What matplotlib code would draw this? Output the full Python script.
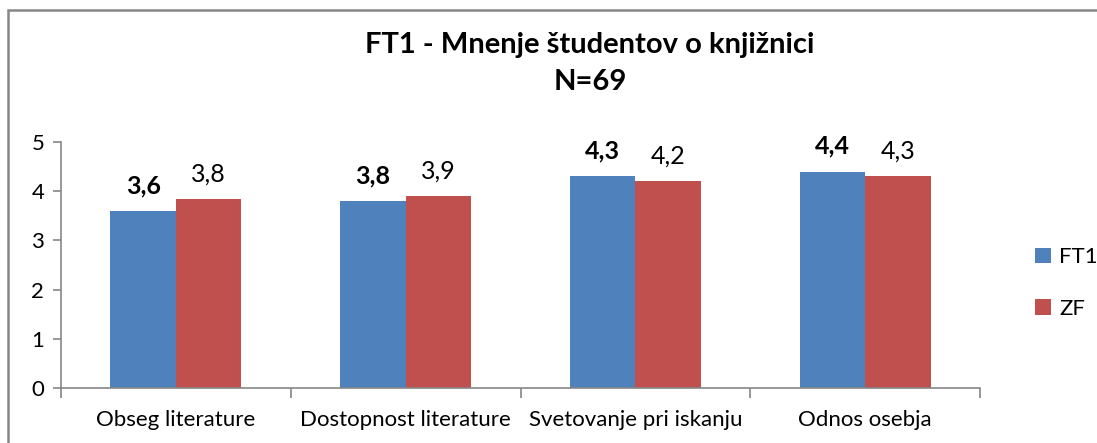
import matplotlib.pyplot as plt
import numpy as np
from matplotlib.patches import Rectangle

plt.rcParams['font.family'] = ['Lato', 'DejaVu Sans']

categories = ['Obseg literature', 'Dostopnost literature', 'Svetovanje pri iskanju', 'Odnos osebja']
ft1 = [3.6, 3.8, 4.3, 4.4]
zf = [3.84, 3.9, 4.2, 4.3]
series_names = ['FT1', 'ZF']
colors = ['#4f81bd', '#c0504d']
grey = '#868686'

fig = plt.figure(figsize=(10.97, 4.43), dpi=100)
ax = fig.add_axes([61 / 1097, 1 - 388 / 443, (980 - 61) / 1097, (388 - 142) / 443])

# outer chart border (runs off the right and bottom edge)
fig.patches.append(Rectangle((8 / 1097, -0.1), 1.2, 1 - 10 / 443 + 0.1,
                             transform=fig.transFigure, fill=False,
                             edgecolor=grey, linewidth=1.8))

x = np.arange(len(categories))
w = 0.285
b1 = ax.bar(x - w / 2, ft1, w, color=colors[0], label=series_names[0])
b2 = ax.bar(x + w / 2, zf, w, color=colors[1], label=series_names[1])

def fmt(v):
    return f'{v:.1f}'.replace('.', ',')

for r, v in zip(b1, ft1):
    ax.annotate(fmt(v), (r.get_x() + r.get_width() / 2, v), xytext=(0, 10),
                textcoords='offset points', ha='center', va='bottom',
                fontsize=18, fontweight='bold')
for r, v in zip(b2, zf):
    ax.annotate(fmt(v), (r.get_x() + r.get_width() / 2, v), xytext=(0, 10),
                textcoords='offset points', ha='center', va='bottom',
                fontsize=18)

ax.set_xlim(-0.5, len(categories) - 0.5)
ax.set_ylim(0, 5)
ax.set_yticks(range(6))
ax.tick_params(axis='y', labelsize=16, length=6, color=grey, width=1.2, pad=6)

# category labels between boundary ticks
ax.set_xticks(np.arange(len(categories) + 1) - 0.5)
ax.set_xticklabels([])
ax.tick_params(axis='x', length=7, color=grey, width=1.2)
ax.set_xticks(x, minor=True)
ax.set_xticklabels(categories, minor=True, fontsize=16)
ax.tick_params(axis='x', which='minor', length=0, pad=16)

for s in ['top', 'right']:
    ax.spines[s].set_visible(False)
for s in ['left', 'bottom']:
    ax.spines[s].set_color(grey)
    ax.spines[s].set_linewidth(1.2)

fig.text(590 / 1097, 1 - 45 / 443, 'FT1 - Mnenje študentov o knjižnici', ha='center',
         va='center', fontsize=21, fontweight='bold')
fig.text(590 / 1097, 1 - 82 / 443, 'N=69', ha='center', va='center',
         fontsize=21, fontweight='bold')

fig.legend(handles=[b1, b2], labels=series_names, loc='center left',
           bbox_to_anchor=(1015 / 1097, 1 - 283 / 443), frameon=False,
           fontsize=16, handlelength=0.7, handleheight=0.7, labelspacing=1.4,
           handletextpad=0.4)

fig.savefig('out.png', dpi=100)
